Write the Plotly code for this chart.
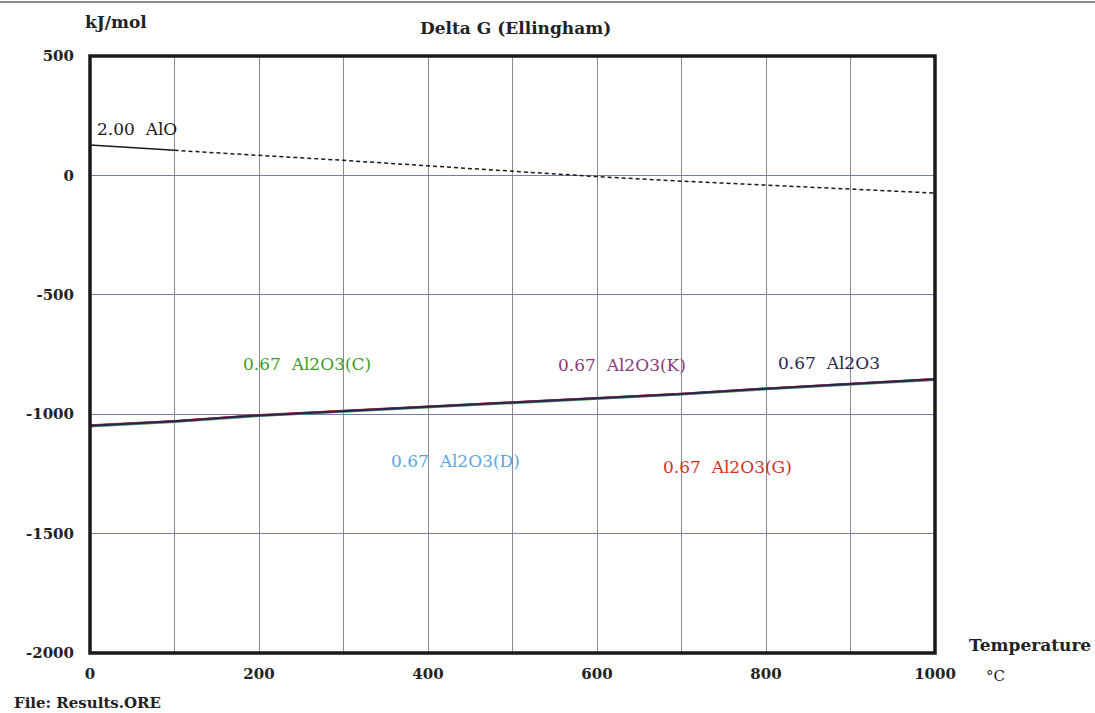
import plotly.graph_objects as go

# Temperature grid (°C)
temperature = [0, 100, 200, 300, 400, 500, 600, 700, 800, 900, 1000]

# Gibbs energy of formation, kJ/mol
dg_alo = [127, 105, 85, 63, 40, 17, -5, -24, -41, -57, -74]
dg_al2o3_c = [-1051, -1033, -1008, -990, -971, -953, -938, -918, -896, -876, -857]
dg_al2o3_d = [-1049, -1031, -1006, -988, -969, -951, -936, -916, -894, -874, -855]
dg_al2o3_k = [-1047, -1029, -1004, -986, -967, -949, -934, -914, -892, -872, -853]
dg_al2o3_g = [-1046, -1028, -1003, -985, -966, -948, -933, -914, -892, -872, -853]
dg_al2o3 = [-1048, -1030, -1005, -987, -968, -950, -935, -915, -893, -873, -854]

x_ticks = [0, 200, 400, 600, 800, 1000]
y_ticks = [500, 0, -500, -1000, -1500, -2000]

SERIF = "DejaVu Serif, serif"

fig = go.Figure()

# AlO: stable segment solid, remainder dashed
fig.add_trace(go.Scatter(x=temperature[:2], y=dg_alo[:2], mode="lines",
                         line=dict(color="#1a1a1a", width=1.5)))
fig.add_trace(go.Scatter(x=temperature[1:], y=dg_alo[1:], mode="lines",
                         line=dict(color="#1a1a1a", width=1.5, dash="4px,3px")))

al2o3_series = [
    (dg_al2o3_c, "#3f9a28"),
    (dg_al2o3_d, "#5aa8e0"),
    (dg_al2o3_k, "#8a3a7a"),
    (dg_al2o3_g, "#d0321e"),
    (dg_al2o3, "#262650"),
]
for values, color in al2o3_series:
    fig.add_trace(go.Scatter(x=temperature, y=values, mode="lines",
                             line=dict(color=color, width=2)))

# Series labels
labels = [
    ("2.00  AlO", 6, 194, "#1a1a1a", "left"),
    ("0.67  Al2O3(C)", 257, -790, "#3f9a28", "center"),
    ("0.67  Al2O3(K)", 630, -794, "#8a3a7a", "center"),
    ("0.67  Al2O3", 875, -785, "#262650", "center"),
    ("0.67  Al2O3(D)", 433, -1196, "#5aa8e0", "center"),
    ("0.67  Al2O3(G)", 754, -1221, "#d0321e", "center"),
]
for text, lx, ly, color, anchor in labels:
    fig.add_annotation(x=lx, y=ly, text=text, showarrow=False, xanchor=anchor,
                       font=dict(family=SERIF, size=17, color=color))

# Frame-level texts (paper coordinates)
H = 597.0
W = 845.0
def px(xpix):
    return (xpix - 90) / W
def py(ypix):
    return (653 - ypix) / H

page_texts = [
    ("kJ/mol", px(83), py(22), "left", 17, "bold"),
    ("Delta G (Ellingham)", px(515), py(28), "center", 17, "bold"),
    ("Temperature", px(967), py(645), "left", 17, "bold"),
    ("°C", px(984), py(676), "left", 15, "normal"),
    ("File: Results.ORE", px(12), py(703), "left", 15, "bold"),
]
for text, tx, ty, anchor, size, weight in page_texts:
    fig.add_annotation(x=tx, y=ty, xref="paper", yref="paper", text=text,
                       showarrow=False, xanchor=anchor, yanchor="middle",
                       font=dict(family=SERIF, size=size, color="#222222", weight=weight))

# Plot frame and top rule
fig.add_shape(type="rect", xref="paper", yref="paper", x0=0, y0=0, x1=1, y1=1,
              line=dict(color="#1a1a1a", width=3.5), layer="above")
fig.add_shape(type="line", xref="paper", yref="paper", x0=px(0), x1=px(1095),
              y0=py(2), y1=py(2), line=dict(color="#8a8a8a", width=2))

fig.update_xaxes(range=[0, 1000], tickmode="array", tickvals=x_ticks,
                 ticktext=[str(v) for v in x_ticks],
                 showgrid=True, gridcolor="#8a8a9a", gridwidth=1,
                 zeroline=False, showline=False, ticks="", ticklabelstandoff=10,
                 tickfont=dict(family=SERIF, size=15, color="#222222", weight="bold"))
fig.update_yaxes(range=[-2000, 500], tickvals=y_ticks, ticktext=[str(v) for v in y_ticks],
                 showgrid=True, gridcolor="#7a7aa8", gridwidth=1,
                 zeroline=False, showline=False, ticks="", ticklabelstandoff=15,
                 tickfont=dict(family=SERIF, size=15, color="#222222", weight="bold"))

fig.update_layout(
    width=1095, height=713,
    margin=dict(l=90, r=160, t=56, b=60),
    paper_bgcolor="white", plot_bgcolor="white",
    showlegend=False,
)

# Vertical gridlines every 100 °C while labels stay at 200 °C steps
for t in range(100, 1000, 200):
    fig.add_shape(type="line", x0=t, x1=t, y0=-2000, y1=500,
                  line=dict(color="#8a8a9a", width=1), layer="below")

fig.write_html("out.html")
